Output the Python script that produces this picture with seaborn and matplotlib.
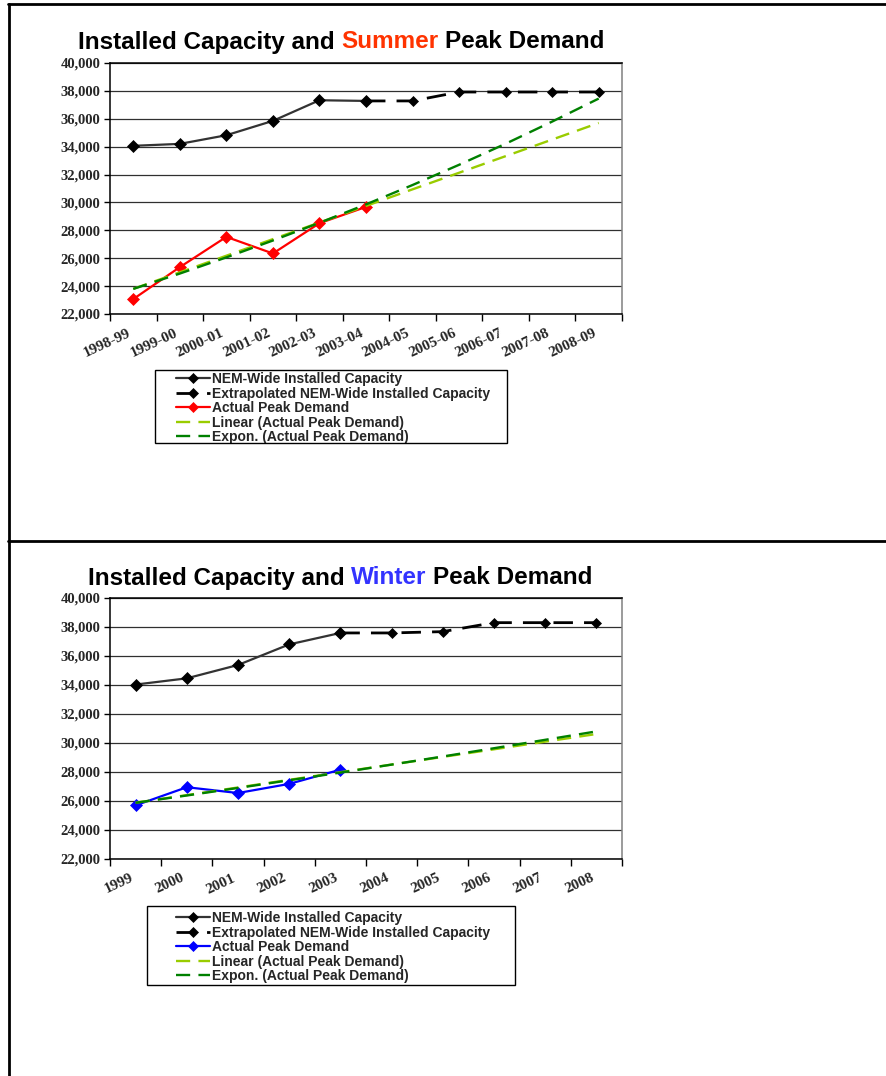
import matplotlib
matplotlib.use('Agg')
import matplotlib.pyplot as plt
from matplotlib.lines import Line2D
from matplotlib.patches import Rectangle
from matplotlib.font_manager import FontProperties
from matplotlib.transforms import ScaledTranslation
import seaborn as sns
import numpy as np

# summer chart data (MW)
summer_years = ['1998-99', '1999-00', '2000-01', '2001-02', '2002-03', '2003-04',
                '2004-05', '2005-06', '2006-07', '2007-08', '2008-09']
summer_capacity = [34060, 34200, 34820, 35850, 37330, 37280]
summer_extrap = [37280, 37280, 37920, 37920, 37920, 37920]
summer_peak = [23070, 25360, 27530, 26340, 28510, 29680]
summer_linear = [23800, 35700]
summer_expon = [23800, 24900, 26060, 27270, 28540, 29860, 31250, 32700, 34210, 35800, 37450]

# winter chart data (MW)
winter_years = ['1999', '2000', '2001', '2002', '2003', '2004', '2005', '2006', '2007', '2008']
winter_capacity = [34030, 34460, 35380, 36800, 37590]
winter_extrap = [37590, 37590, 37680, 38300, 38300, 38300]
winter_peak = [25700, 26950, 26550, 27180, 28160]
winter_linear = [25880, 30620]
winter_expon = [25880, 26380, 26900, 27430, 27960, 28510, 29070, 29640, 30220, 30800]

y_ticks = list(range(22000, 40001, 2000))

W, H = 886, 1076


def fx(px):
    return px / W


def fy(py):
    return 1 - py / H


def colored_title(fig, parts, xc, yc, size):
    # draw the title in pieces so one word can be coloured
    renderer = fig.canvas.get_renderer()
    texts = []
    for s, c in parts:
        t = fig.text(0, fy(yc), s, color=c, fontsize=size, fontweight='bold',
                     family='Liberation Sans', ha='left', va='center')
        texts.append(t)
    widths = [t.get_window_extent(renderer).width for t in texts]
    gap = 0.278 * size * 100 / 72
    total = sum(widths) + gap * (len(texts) - 1)
    x = xc - total / 2
    for t, w in zip(texts, widths):
        t.set_x(fx(x))
        x += w + gap


def draw_chart(ax, years, cap, extrap, peak, peak_color, lin, expon):
    n = len(years)
    idx = np.arange(n)
    k = len(cap) - 1

    sns.lineplot(x=idx[:len(cap)], y=cap, ax=ax, color='#333333', lw=1.6,
                 marker='D', markersize=6.5, mec='black', mfc='black', mew=0.5,
                 label='NEM-Wide Installed Capacity', sort=False, errorbar=None)
    sns.lineplot(x=idx[k:], y=extrap, ax=ax, color='black', lw=2.0,
                 linestyle=(0, (7, 4)), marker='D', markersize=5.5, mec='black',
                 mfc='black', mew=0.5, label='Extrapolated NEM-Wide Installed Capacity',
                 sort=False, errorbar=None)
    sns.lineplot(x=idx[:len(peak)], y=peak, ax=ax, color=peak_color, lw=1.6,
                 marker='D', markersize=6.5, mec=peak_color, mfc=peak_color, mew=0.5,
                 label='Actual Peak Demand', sort=False, errorbar=None)
    sns.lineplot(x=[0, n - 1], y=lin, ax=ax, color='#99CC00', lw=1.7,
                 linestyle=(0, (6, 3.5)), label='Linear (Actual Peak Demand)',
                 sort=False, errorbar=None)
    sns.lineplot(x=idx, y=expon, ax=ax, color='#008000', lw=1.7,
                 linestyle=(0, (6, 3.5)), label='Expon. (Actual Peak Demand)',
                 sort=False, errorbar=None)

    ax.set_xlim(-0.5, n - 0.5)
    ax.set_ylim(22000, 40000)
    ax.set_yticks(y_ticks)
    ax.set_yticklabels([f'{v:,}' for v in y_ticks], family='Liberation Serif',
                       fontweight='bold', fontsize=10.5)
    ax.set_xticks(np.arange(n + 1) - 0.5)
    ax.set_xticklabels([])
    ax.set_xticks(idx, minor=True)
    ax.tick_params(axis='x', which='major', bottom=True, length=5, width=1,
                   color='black', direction='out')
    ax.tick_params(axis='x', which='minor', bottom=True, length=0, pad=9)
    ax.tick_params(axis='y', which='major', left=True, length=4, width=1,
                   color='black', direction='out', pad=3)
    ax.set_xticklabels(years, minor=True, rotation=25, ha='right',
                       rotation_mode='anchor', family='Liberation Serif',
                       fontweight='bold', fontsize=11)
    # Excel puts the end of the slanted label a little left of the category centre
    shift = ScaledTranslation(-6 / 100, 0, ax.figure.dpi_scale_trans)
    for lbl in ax.get_xticklabels(minor=True):
        lbl.set_transform(lbl.get_transform() + shift)
    ax.yaxis.grid(True, color='#303030', lw=0.9)
    ax.xaxis.grid(False)
    ax.set_axisbelow(True)
    for side in ['left', 'bottom', 'top']:
        ax.spines[side].set_color('black')
        ax.spines[side].set_linewidth(1.1)
    ax.spines['right'].set_color('#808080')
    ax.spines['right'].set_linewidth(1.1)
    ax.set_xlabel('')
    ax.set_ylabel('')
    if ax.get_legend() is not None:
        ax.get_legend().remove()


sns.set_theme(style='white')
plt.rcParams['font.family'] = ['Liberation Sans', 'DejaVu Sans']

fig = plt.figure(figsize=(W / 100, H / 100), dpi=100)
fig.patch.set_facecolor('white')

ax1 = fig.add_axes([fx(110), fy(314), fx(512), 251 / H])
ax2 = fig.add_axes([fx(110), fy(859), fx(512), 261 / H])

draw_chart(ax1, summer_years, summer_capacity, summer_extrap, summer_peak,
           '#FF0000', summer_linear, summer_expon)
draw_chart(ax2, winter_years, winter_capacity, winter_extrap, winter_peak,
           '#0000FF', winter_linear, winter_expon)

# legends: content placed like the Excel legend, box drawn separately
leg_font = FontProperties(family='Liberation Sans', weight='bold', size=10)
legend_boxes = [(ax1, (155, 370, 352, 73), (176, 372)),
                (ax2, (147, 906, 368, 79), (176, 911))]
for ax, (bx, by, bw, bh), (lx, ly) in legend_boxes:
    handles, labels = ax.get_legend_handles_labels()
    leg = ax.legend(handles, labels, loc='upper left',
                    bbox_to_anchor=(fx(lx), fy(ly)), bbox_transform=fig.transFigure,
                    frameon=False, prop=leg_font,
                    handlelength=2.45, handletextpad=0.15, labelspacing=0.04,
                    borderpad=0, borderaxespad=0, numpoints=1, markerscale=0.85)
    fig.add_artist(Rectangle((fx(bx), fy(by + bh)), bw / W, bh / H,
                             transform=fig.transFigure, fill=False,
                             edgecolor='black', lw=1.0))

colored_title(fig, [('Installed Capacity and', 'black'), ('Summer', '#FF3300'),
                    ('Peak Demand', 'black')], 341, 42, 17.5)
colored_title(fig, [('Installed Capacity and', 'black'), ('Winter', '#3333FF'),
                    ('Peak Demand', 'black')], 340, 578, 17.5)

# page/table borders
fig.add_artist(Line2D([fx(9), fx(9)], [fy(4), 0], transform=fig.transFigure,
                      color='black', lw=2))
fig.add_artist(Line2D([fx(8), 1], [fy(4), fy(4)], transform=fig.transFigure,
                      color='black', lw=2))
fig.add_artist(Line2D([fx(8), 1], [fy(541), fy(541)], transform=fig.transFigure,
                      color='black', lw=2))

fig.savefig('out.png', dpi=100)
